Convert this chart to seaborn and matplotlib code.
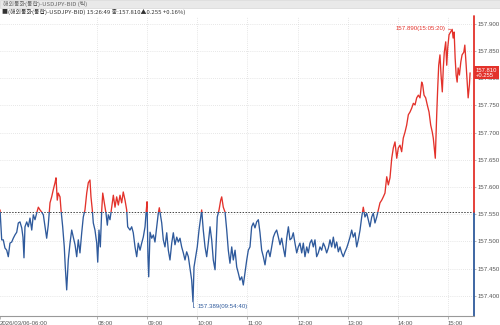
import matplotlib
matplotlib.use("Agg")
import matplotlib.pyplot as plt
from matplotlib.patches import Rectangle
from matplotlib import font_manager
import matplotlib.transforms as mtrans
import seaborn as sns
import pandas as pd

# ---- data (minutes after 06:00, price) ----
t_min = [3.4,5.4,7.3,9.3,11.4,13.3,15.3,17.4,19.3,21.3,23.4,25.3,27.3,29.4,30.9,32.1,33.3,35.4,37.3,39.3,
         41.4,43.3,45.3,47.3,49.3,51.3,53.3,55.3,57.3,59.3,61.2,63.3,65.3,67.2,69.3,70.5,72.0,73.2,75.3,76.5,
         78.5,80.4,81.6,83.3,85.2,87.3,89.3,91.2,93.3,
         95.3,97.2,99.2,101.3,103.2,105.2,107.3,109.2,111.2,112.4,114.0,115.2,117.2,119.3,120.5,122.0,123.6,125.3,126.5,128.4,
         130.4,132.0,133.2,135.2,137.2,139.2,141.2,143.2,145.2,147.2,149.2,151.1,153.2,155.2,156.4,159.2,161.2,163.1,165.2,167.2,
         169.1,171.2,173.2,175.1,177.2,178.4,179.6,180.7,181.6,
         183.2,185.2,187.2,189.1,191.2,193.1,194.3,196.0,197.2,199.1,201.1,203.2,205.1,207.1,209.2,211.1,213.1,215.2,217.1,219.1,
         221.1,223.1,225.1,227.1,229.1,231.1,233.1,234.67,235.9,237.9,239.8,241.9,243.9,245.1,247.0,249.1,251.1,253.0,255.1,257.1,
         259.0,261.1,262.3,263.8,265.9,267.9,269.1,271.0,273.1,
         275.1,277.0,279.0,281.1,283.0,285.1,287.1,289.0,291.0,293.1,295.0,297.0,299.1,301.0,303.0,305.0,307.0,309.0,311.0,313.0,
         315.0,317.0,319.0,321.0,323.0,325.0,327.0,329.0,331.0,333.0,335.0,337.0,339.0,341.0,343.0,345.0,347.0,349.0,350.9,353.0,
         354.9,356.9,359.0,360.9,
         362.9,365.0,366.9,368.9,371.0,372.9,374.9,376.9,378.9,380.9,382.9,384.9,386.9,388.9,390.9,392.9,394.9,396.9,398.9,400.9,
         402.9,404.9,406.9,408.9,410.9,412.9,414.8,416.9,418.9,420.8,422.9,424.9,426.8,428.9,430.9,432.8,434.9,436.9,438.8,440.8,
         442.9,444.8,446.8,448.9,450.8,452.8,454.9,456.8,458.8,460.9,462.8,464.8,
         466.9,468.8,470.8,472.9,474.8,476.8,478.9,480.8,482.8,484.8,486.7,488.8,490.8,492.8,494.8,496.8,498.8,500.8,502.8,504.8,
         506.8,508.8,510.0,511.6,513.6,515.5,517.6,519.6,521.5,522.7,523.9,525.1,526.8,528.0,529.2,530.7,532.0,533.5,534.7,535.9,
         537.6,538.8,540.0,541.6,545.33,546.5,547.7,548.9,550.1,551.3,552.5,554.0,555.7,557.2,559.3,560.5,562.1,563.3,564.5,566.0,
         566.82]

price = [157.558,157.503,157.503,157.488,157.484,157.472,157.497,157.499,157.506,157.512,157.517,157.534,157.536,157.525,157.508,157.470,157.527,157.536,157.527,157.543,
         157.521,157.549,157.540,157.552,157.563,157.558,157.554,157.549,157.527,157.506,157.530,157.571,157.582,157.595,157.608,157.617,157.576,157.589,157.582,157.558,
         157.527,157.490,157.453,157.411,157.466,157.497,157.521,157.508,157.494,
         157.472,157.503,157.479,157.516,157.545,157.558,157.589,157.608,157.613,157.582,157.558,157.534,157.521,157.497,157.462,157.521,157.490,157.558,157.589,157.571,
         157.552,157.530,157.549,157.540,157.563,157.585,157.563,157.582,157.567,157.585,157.571,157.591,157.576,157.558,157.527,157.521,157.527,157.516,157.490,157.472,
         157.497,157.484,157.497,157.508,157.527,157.552,157.573,157.472,157.435,
         157.517,157.506,157.512,157.499,157.527,157.552,157.562,157.545,157.534,157.503,157.490,157.516,157.484,157.466,157.497,157.516,157.494,157.508,157.499,157.506,
         157.490,157.479,157.466,157.481,157.472,157.451,157.429,157.389,157.453,157.472,157.490,157.521,157.545,157.558,157.521,157.490,157.472,157.497,157.527,157.503,
         157.466,157.448,157.490,157.545,157.558,157.576,157.582,157.563,157.554,
         157.521,157.484,157.460,157.490,157.466,157.484,157.453,157.442,157.429,157.435,157.420,157.442,157.466,157.484,157.490,157.527,157.534,157.525,157.536,157.540,
         157.516,157.484,157.472,157.457,157.479,157.484,157.472,157.490,157.508,157.516,157.521,157.508,157.494,157.506,157.488,157.472,157.506,157.527,157.503,157.506,
         157.516,157.497,157.479,157.490,
         157.497,157.479,157.497,157.472,157.490,157.479,157.497,157.503,157.490,157.503,157.472,157.479,157.490,157.484,157.497,157.490,157.479,157.488,157.503,157.490,
         157.508,157.488,157.499,157.481,157.490,157.479,157.472,157.481,157.488,157.497,157.508,157.521,157.508,157.516,157.490,157.503,157.521,157.545,157.563,157.545,
         157.552,157.540,157.527,157.545,157.552,157.534,157.545,157.558,157.571,157.576,157.582,157.589,
         157.619,157.604,157.617,157.653,157.672,157.683,157.653,157.672,157.677,157.665,157.690,157.701,157.714,157.733,157.738,157.745,157.754,157.751,157.764,157.769,
         157.764,157.793,157.788,157.769,157.764,157.751,157.738,157.714,157.701,157.690,157.672,157.653,157.733,157.782,157.824,157.843,157.806,157.775,157.819,157.848,
         157.867,157.824,157.856,157.880,157.890,157.874,157.885,157.837,157.806,157.793,157.819,157.806,157.830,157.843,157.848,157.861,157.824,157.793,157.764,157.788,
         157.810]

if len(t_min) != len(price):
    raise SystemExit(f"length mismatch {len(t_min)} {len(price)}")

ref_price = 157.555
y_ticks = [157.40, 157.45, 157.50, 157.55, 157.60, 157.65, 157.70, 157.75, 157.80, 157.85, 157.90]
hour_ticks = [8, 9, 10, 11, 12, 13, 14, 15]
hour_labels = ["08:00", "09:00", "10:00", "11:00", "12:00", "13:00", "14:00", "15:00"]
first_label = "2026/03/06-06:00"
header1 = "해외통화(통합)-USDJPY-BID (틱)"
header2 = "■(해외통화(통합)-USDJPY-BID) 15:26:49 종:157.810▲0.255 +0.16%)"
max_label = "157.890(15:05:20)"
min_label = "157.389(09:54:40)"
last_label = "157.810\n+0.255"

RED = "#e3322b"
BLUE = "#2f5a9c"
GREY = "#555555"

sns.set_style("white")
avail = {f.name for f in font_manager.fontManager.ttflist}
narrow = "Liberation Sans Narrow" if "Liberation Sans Narrow" in avail else "Liberation Sans"
plt.rcParams["font.family"] = [narrow, "DejaVu Sans"]
CJK = ["Noto Sans CJK KR", "DejaVu Sans"]
FS = 4.4 if narrow == "Liberation Sans" else 4.8

df = pd.DataFrame({"hour": [6 + t / 60 for t in t_min], "price": price})

fig = plt.figure(figsize=(5, 3.25), dpi=100)
ax = fig.add_axes([0.0, 9 / 325, 474 / 500, (325 - 16 - 9) / 325])

x_lo, x_hi = 6.056, 15.525
y_lo, y_hi = 157.363, 157.9145

sns.lineplot(data=df, x="hour", y="price", color=BLUE, lw=0.95, estimator=None, sort=False, ax=ax)
sns.lineplot(data=df, x="hour", y="price", color=RED, lw=0.95, estimator=None, sort=False, ax=ax)
blue_line, red_line = ax.lines[0], ax.lines[1]
clip_hi = Rectangle((x_lo - 1, ref_price), 20, 5, transform=ax.transData, visible=False)
clip_lo = Rectangle((x_lo - 1, ref_price - 5), 20, 5, transform=ax.transData, visible=False)
ax.add_patch(clip_hi)
ax.add_patch(clip_lo)
red_line.set_clip_path(clip_hi)
blue_line.set_clip_path(clip_lo)

ax.set_xlim(x_lo, x_hi)
ax.set_ylim(y_lo, y_hi)
ax.set_xlabel("")
ax.set_ylabel("")

# grid
for yv in y_ticks:
    ax.axhline(yv, color="#d0d0d0", lw=0.5, ls=(0, (1, 2)), zorder=0)
for hv in hour_ticks:
    ax.axvline(hv, color="#d0d0d0", lw=0.5, ls=(0, (1, 2)), zorder=0)
ax.axhline(ref_price, color="#444444", lw=0.7, ls=(0, (1.5, 1.5)), zorder=1)

# axes
for s in ["top", "left", "right"]:
    ax.spines[s].set_visible(False)
ax.spines["bottom"].set_color("#999999")
ax.spines["bottom"].set_linewidth(0.8)
frac = (ref_price - y_lo) / (y_hi - y_lo)
ax.axvline(x_hi, ymin=0, ymax=frac, color=BLUE, lw=1.3, clip_on=False)
ax.axvline(x_hi, ymin=frac, ymax=1, color=RED, lw=1.3, clip_on=False)

ax.yaxis.tick_right()
ax.set_yticks(y_ticks)
ax.set_yticklabels([f"{v:.3f}" for v in y_ticks])
ax.tick_params(axis="y", right=True, length=1.5, width=0.5, color="#999999",
               labelsize=FS, labelcolor=GREY, pad=1.0)
ax.set_xticks([x_lo] + hour_ticks)
ax.set_xticklabels([first_label] + hour_labels)
ax.tick_params(axis="x", bottom=True, length=2.5, width=0.5, color="#999999",
               labelsize=FS, labelcolor=GREY, pad=1)
for lab in ax.get_xticklabels():
    lab.set_ha("left")

# annotations
i_max = price.index(max(price))
i_min = price.index(min(price))
ax.annotate(max_label, xy=(df.hour[i_max], price[i_max]), xytext=(-5, 0.5), textcoords="offset points",
            ha="right", va="center", fontsize=FS, color=RED,
            arrowprops=dict(arrowstyle="-", color=RED, lw=0.5, shrinkA=0, shrinkB=1))
ax.annotate(min_label, xy=(df.hour[i_min], price[i_min]), xytext=(3, -3.5), textcoords="offset points",
            ha="left", va="center", fontsize=FS, color=BLUE,
            arrowprops=dict(arrowstyle="-", color=BLUE, lw=0.5, shrinkA=0, shrinkB=0,
                            connectionstyle="angle,angleA=0,angleB=90,rad=0"))
trans = mtrans.blended_transform_factory(ax.transAxes, ax.transData)
ax.text(1.004, price[-1], last_label, transform=trans, ha="left", va="center", fontsize=FS - 0.2,
        color="white", linespacing=1.0, clip_on=False, zorder=10,
        bbox=dict(boxstyle="square,pad=0.25", fc=RED, ec="none"))

# header
fig.patches.append(Rectangle((0, 1 - 8 / 325), 1, 8 / 325, transform=fig.transFigure,
                             facecolor="#e9e9e9", edgecolor="#d0d0d0", lw=0.4, zorder=0))
fig.text(0.006, 1 - 4 / 325, header1, fontsize=4.3, color="#666666", va="center", ha="left", family=CJK)
fig.text(0.004, 1 - 11.5 / 325, header2, fontsize=4.3, color="#333333", va="center", ha="left", family=CJK)

fig.savefig("out.png", dpi=100)
